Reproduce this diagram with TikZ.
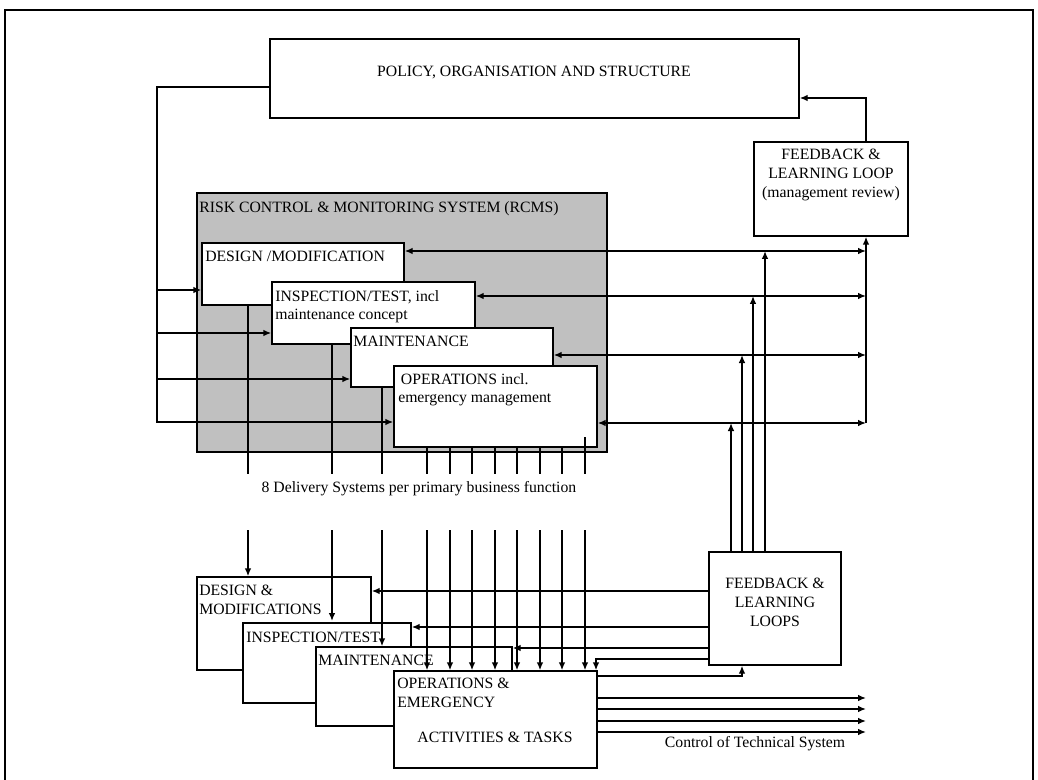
\documentclass[tikz,border=0pt]{standalone}
\usepackage{fontspec}
\setmainfont{Liberation Serif}
\usetikzlibrary{arrows.meta,fit}
\definecolor{rcmsgray}{RGB}{192,192,192}
\begin{document}
\begin{tikzpicture}[x=0.75pt,y=-0.75pt,
  box/.style={draw=black,fill=white,line width=1.1pt,inner sep=0pt},
  shadebox/.style={box,fill=rcmsgray},
  txt/.style={inner sep=0pt,anchor=north west,align=left,font=\fontsize{11.8}{14}\selectfont},
  ctxt/.style={txt,anchor=north,align=center},
  wire/.style={line width=1.1pt},
  flow/.style={wire,-{Latex[length=6pt,width=5pt]}},
  twoway/.style={wire,{Latex[length=6pt,width=5pt]}-{Latex[length=6pt,width=5pt]}}
]
  \useasboundingbox (0,0) rectangle (1038,780);
  \draw[line width=2.2pt] (5,780) -- (5,10) -- (1033,10) -- (1033,780);

  \node[box,fit={(270,39) (799,118)}] (policy) {};
  \node[ctxt] (policy-t) at (534,66) {POLICY, ORGANISATION AND STRUCTURE};
  \node[box,fit={(754,142) (908,236)}] (fbtop) {};
  \node[ctxt] (fbtop-t) at (831,149) {FEEDBACK \&\\LEARNING LOOP\\(management review)};

  \node[shadebox,fit={(197,193) (607,452)}] (rcms) {};
  \node[txt] (rcms-t) at (199,201) {RISK CONTROL \& MONITORING SYSTEM (RCMS)};
  \node[box,fit={(202,243) (404,305)}] (design) {};
  \node[txt] (design-t) at (205,251) {DESIGN /MODIFICATION};
  \node[box,fit={(272,282) (475,344)}] (insp) {};
  \node[txt] (insp-t) at (275,290) {INSPECTION/TEST, incl\\maintenance concept};
  \node[box,fit={(351,328) (553,387)}] (maint) {};
  \node[txt] (maint-t) at (353,336) {MAINTENANCE};
  \node[box,fit={(394,366) (597,447)}] (ops) {};
  \node[txt] (ops-t) at (398,373) {\hspace{2pt}OPERATIONS incl.\\emergency management};

  \node[box,fit={(197,577) (371,670)}] (ldesign) {};
  \node[txt] (ldesign-t) at (199,585) {DESIGN \&\\MODIFICATIONS};
  \node[box,fit={(243,623) (411,703)}] (linsp) {};
  \node[txt] (linsp-t) at (246,632) {INSPECTION/TEST};
  \node[box,fit={(316,647) (512,726)}] (lmaint) {};
  \node[txt] (lmaint-t) at (318,655) {MAINTENANCE};
  \node[box,fit={(394,671) (597,768)}] (lops) {};
  \node[txt] (lops-t) at (397,678) {OPERATIONS \&\\EMERGENCY};
  \node[txt,anchor=center] (lops-a) at (495,737) {ACTIVITIES \& TASKS};
  \node[box,fit={(709,552) (841,665)}] (fbbot) {};
  \node[ctxt] (fbbot-t) at (775,578) {FEEDBACK \&\\LEARNING\\LOOPS};

  \node[txt,anchor=center] (delivery) at (419,489) {8 Delivery Systems per primary business function};
  \node[txt,anchor=center] (control) at (755,744) {Control of Technical System};

  \coordinate (lrail) at (157,87);
  \coordinate (lrailend) at (157,423);
  \coordinate (rrail) at (866,98);
  \coordinate (rrailend) at (866,423);
  \coordinate (tech) at (866,732);

  \draw[wire] (policy.west |- lrail) -- (lrail) -- (lrailend);
  \foreach \b/\y in {design/290,insp/333,maint/379,ops/422}
    \draw[flow] (lrail |- 0,\y) -- (\b.west |- 0,\y);
  \draw[flow] (fbtop.north -| rrail) -- (rrail) -- (policy.east |- rrail);
  \draw[flow] (rrailend) -- (fbtop.south -| rrail);
  \foreach \b/\y in {design/251,insp/296,maint/355,ops/423}
    \draw[twoway] (\b.east |- 0,\y) -- (rrail |- 0,\y);
  \foreach \x/\y in {731/423,742/355,753/296,765/251}
    \draw[flow] (fbbot.north -| \x,0) -- (\x,\y);

  \draw[wire] (design.south -| 248,0) -- (248,474);
  \draw[wire] (insp.south -| 332,0) -- (332,474);
  \draw[wire] (maint.south -| 382,0) -- (382,474);
  \foreach \x in {427,450,472,495,517,540,562}
    \draw[wire] (ops.south -| \x,0) -- (\x,474);
  \draw[wire] (585,437) -- (585,474);

  \draw[flow] (248,530) -- (ldesign.north -| 248,0);
  \draw[flow] (332,530) -- (332,621);
  \draw[flow] (382,530) -- (lmaint.north -| 382,0);
  \foreach \x in {427,450,472,495,517,540,562,585}
    \draw[flow] (\x,530) -- (lops.north -| \x,0);

  \draw[flow] (fbbot.west |- 0,591) -- (ldesign.east |- 0,591);
  \draw[flow] (fbbot.west |- 0,627) -- (linsp.east |- 0,627);
  \draw[flow] (fbbot.west |- 0,648) -- (lmaint.east |- 0,648);
  \draw[flow] (fbbot.west |- 0,659) -- (596,659) -- (lops.north -| 596,0);
  \draw[flow] (lops.east |- 0,676) -- (742,676) -- (fbbot.south -| 742,0);
  \foreach \y in {698,709,721,732}
    \draw[flow] (lops.east |- 0,\y) -- (tech |- 0,\y);
\end{tikzpicture}
\end{document}
